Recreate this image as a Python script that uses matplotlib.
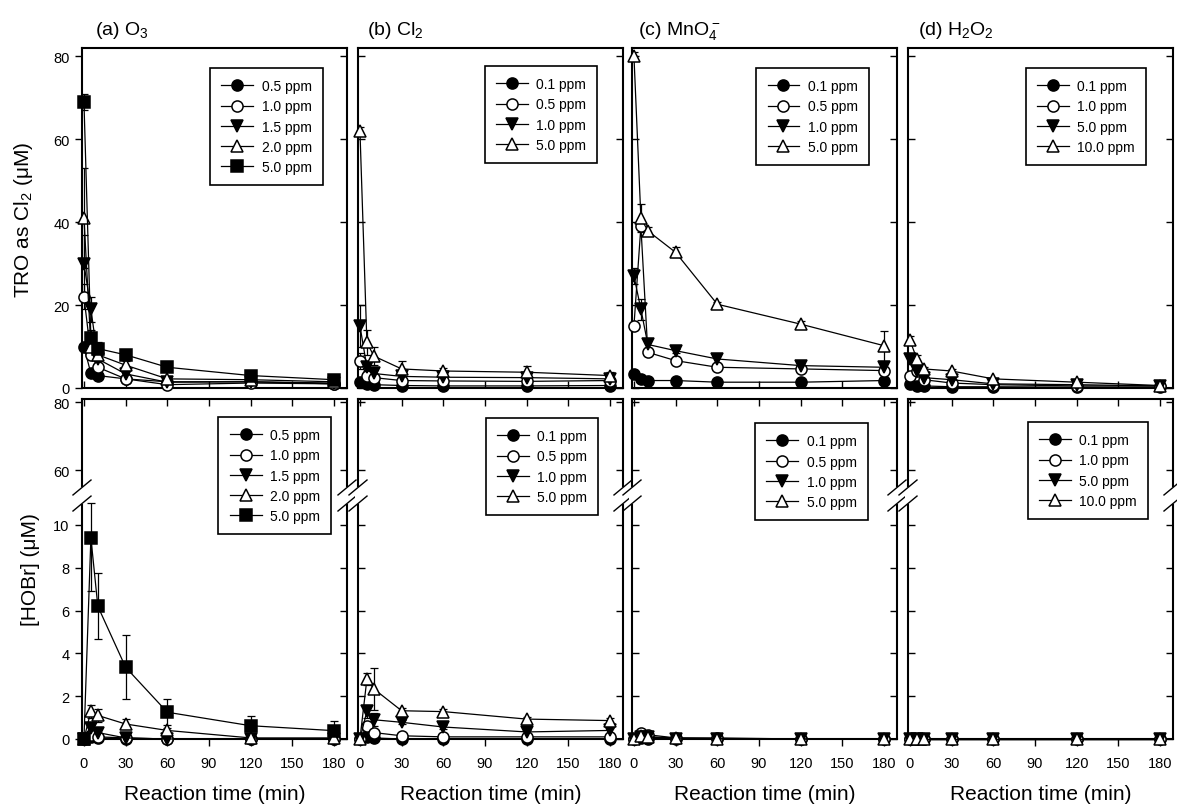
import numpy as np
import matplotlib
matplotlib.use('Agg')
import matplotlib.pyplot as plt
import matplotlib.lines as mlines
from matplotlib.patches import Rectangle
from matplotlib.ticker import NullLocator

plt.rcParams['font.family'] = 'Liberation Sans'
plt.rcParams['mathtext.default'] = 'regular'

# sampling times (min)
times = [0, 5, 10, 30, 60, 120, 180]

# (a) O3
o3_labels = ['0.5 ppm', '1.0 ppm', '1.5 ppm', '2.0 ppm', '5.0 ppm']
o3_tro = [[10, 3.5, 3.0, 2.2, 1.5, 1.5, 1.0],
          [22, 8.0, 5.0, 2.2, 0.8, 1.2, 1.0],
          [30, 19, 7.0, 3.4, 1.4, 1.5, 1.2],
          [41, 10, 8.0, 5.5, 2.2, 2.0, 1.5],
          [69, 12, 9.5, 8.0, 5.0, 3.0, 2.0]]
o3_tro_err = [[1.0, 0.5, 0.5, 0.3, 0.3, 0.3, 0.3],
              [3.0, 1.0, 1.0, 0.5, 0.3, 0.3, 0.3],
              [7.0, 3.0, 1.5, 1.0, 0.5, 0.3, 0.3],
              [12, 2.0, 1.5, 1.0, 0.5, 0.5, 0.3],
              [2.0, 2.0, 1.5, 1.0, 0.5, 0.5, 0.5]]
o3_hobr = [[0, 0.1, 0.05, 0, 0, 0, 0],
           [0, 0.2, 0.1, 0.05, 0, 0, 0],
           [0, 0.5, 0.3, 0.05, 0, 0, 0],
           [0, 1.3, 1.1, 0.7, 0.4, 0.05, 0.05],
           [0, 9.4, 6.2, 3.35, 1.25, 0.62, 0.39]]
o3_hobr_err = [[0, 0.05, 0.05, 0, 0, 0, 0],
               [0, 0.1, 0.05, 0, 0, 0, 0],
               [0, 0.3, 0.2, 0.05, 0, 0, 0],
               [0, 0.3, 0.3, 0.25, 0.1, 0.05, 0.05],
               [0, 2.5, 1.55, 1.5, 0.6, 0.47, 0.47]]

# (b) Cl2
cl2_labels = ['0.1 ppm', '0.5 ppm', '1.0 ppm', '5.0 ppm']
cl2_tro = [[1.5, 1.0, 0.8, 0.6, 0.5, 0.5, 0.6],
           [6.5, 3.0, 2.5, 1.8, 1.7, 1.6, 1.8],
           [15, 5.0, 3.5, 2.8, 2.6, 2.5, 2.2],
           [62, 11, 7.7, 4.6, 4.1, 3.8, 3.0]]
cl2_tro_err = [[0.5, 0.3, 0.3, 0.2, 0.2, 0.2, 0.2],
               [2.0, 1.0, 0.5, 0.3, 0.3, 0.3, 0.3],
               [5.0, 1.5, 0.8, 0.5, 0.3, 0.3, 0.3],
               [1.0, 3.0, 2.2, 2.0, 0.8, 1.5, 0.8]]
cl2_hobr = [[0, 0.1, 0.05, 0, 0, 0, 0],
            [0, 0.6, 0.3, 0.15, 0.1, 0.1, 0.1],
            [0, 1.3, 0.9, 0.78, 0.56, 0.33, 0.4],
            [0, 2.8, 2.34, 1.32, 1.28, 0.93, 0.86]]
cl2_hobr_err = [[0, 0.05, 0.05, 0, 0, 0, 0],
                [0, 0.2, 0.1, 0.05, 0.05, 0.05, 0.05],
                [0, 0.3, 0.3, 0.1, 0.1, 0.1, 0.1],
                [0, 0.3, 1.0, 0.15, 0.1, 0.1, 0.1]]

# (c) MnO4-
mno4_labels = ['0.1 ppm', '0.5 ppm', '1.0 ppm', '5.0 ppm']
mno4_tro = [[3.4, 2.2, 1.8, 1.8, 1.4, 1.4, 1.8],
            [15, 39, 8.6, 6.6, 5.0, 4.6, 4.2],
            [27, 19, 10.5, 9.0, 7.0, 5.4, 5.0],
            [80, 41, 37.9, 32.7, 20.2, 15.4, 10.2]]
mno4_tro_err = [[0.5, 0.3, 0.3, 0.3, 0.3, 0.3, 0.3],
                [1.0, 1.0, 1.0, 0.8, 0.5, 0.5, 0.5],
                [2.0, 2.5, 1.0, 0.5, 1.2, 1.2, 1.0],
                [1.0, 3.3, 1.0, 1.2, 0.5, 0.8, 3.6]]
mno4_hobr = [[0, 0.05, 0, 0, 0, 0, 0],
             [0, 0.3, 0.2, 0.05, 0.05, 0, 0],
             [0, 0.1, 0.1, 0, 0, 0, 0],
             [0, 0.15, 0.1, 0.05, 0.02, 0, 0]]
mno4_hobr_err = [[0, 0, 0, 0, 0, 0, 0],
                 [0, 0.1, 0.05, 0, 0, 0, 0],
                 [0, 0.05, 0.05, 0, 0, 0, 0],
                 [0, 0.05, 0.05, 0, 0, 0, 0]]

# (d) H2O2
h2o2_labels = ['0.1 ppm', '1.0 ppm', '5.0 ppm', '10.0 ppm']
h2o2_tro = [[1.0, 0.5, 0.5, 0.3, 0.3, 0.2, 0.2],
            [3.0, 4.0, 2.0, 1.2, 0.8, 0.5, 0.5],
            [7.0, 4.0, 2.5, 2.0, 1.0, 0.8, 0.5],
            [11.5, 7.0, 4.6, 4.1, 2.2, 1.4, 0.6]]
h2o2_tro_err = [[0.3, 0.2, 0.2, 0.1, 0.1, 0.1, 0.1],
                [0.5, 0.5, 0.3, 0.3, 0.2, 0.2, 0.2],
                [1.0, 0.5, 0.5, 0.3, 0.3, 0.2, 0.2],
                [1.0, 1.0, 0.5, 0.5, 0.3, 0.3, 0.3]]
h2o2_hobr = [[0, 0, 0, 0, 0, 0, 0],
             [0, 0, 0, 0, 0, 0, 0],
             [0, 0, 0, 0, 0, 0, 0],
             [0, 0, 0, 0, 0, 0, 0]]
h2o2_hobr_err = [[0, 0, 0, 0, 0, 0, 0]] * 4

titles = ['(a) O$_3$', '(b) Cl$_2$', '(c) MnO$_4^-$', '(d) H$_2$O$_2$']
tro_ticks = [0, 20, 40, 60, 80]
hobr_ticks = [0, 2, 4, 6, 8, 10, 60, 80]
x_ticks = [0, 30, 60, 90, 120, 150, 180]

panels = [(o3_labels, o3_tro, o3_tro_err, o3_hobr, o3_hobr_err),
          (cl2_labels, cl2_tro, cl2_tro_err, cl2_hobr, cl2_hobr_err),
          (mno4_labels, mno4_tro, mno4_tro_err, mno4_hobr, mno4_hobr_err),
          (h2o2_labels, h2o2_tro, h2o2_tro_err, h2o2_hobr, h2o2_hobr_err)]

# symbols in SigmaPlot default order
symbols = [('o', 'k'), ('o', 'w'), ('v', 'k'), ('^', 'w'), ('s', 'k')]

# broken y axis for the HOBr row: 0-11 linear, then 55-81 compressed
LO, HI, GAP, K = 11.0, 55.0, 0.75, 0.159


def fwd(y):
    y = np.asarray(y, dtype=float)
    return np.where(y <= LO, y,
                    np.where(y >= HI, LO + GAP + (y - HI) * K,
                             LO + (y - LO) / (HI - LO) * GAP))


def inv(m):
    m = np.asarray(m, dtype=float)
    return np.where(m <= LO, m,
                    np.where(m >= LO + GAP, HI + (m - LO - GAP) / K,
                             LO + (m - LO) / GAP * (HI - LO)))


def draw_series(ax, labels, vals, errs):
    for i in range(len(labels)):
        m, fc = symbols[i]
        ax.errorbar(times, vals[i], yerr=errs[i], fmt='none', ecolor='k',
                    elinewidth=0.9, capsize=3, capthick=0.9, zorder=2.6)
        ax.plot(times, vals[i], '-', color='k', lw=0.9, marker=m, mfc=fc,
                mec='k', ms=8, mew=1.1, label=labels[i], clip_on=False, zorder=3)


def add_legend(ax, anchor):
    leg = ax.legend(loc='upper right', bbox_to_anchor=anchor, borderaxespad=0,
                    fancybox=False, edgecolor='k', framealpha=1, fontsize=10,
                    handlelength=2.3, handletextpad=0.6, labelspacing=0.45,
                    borderpad=0.8)
    leg.get_frame().set_linewidth(1.2)


W, H = 1177, 812
fig = plt.figure(figsize=(W / 100, H / 100), dpi=100)
lefts = [82, 358, 632, 908]
title_x = [95, 367, 638, 918]
top_anchor = [(0.909, 0.941), (0.902, 0.947), (0.894, 0.941), (0.898, 0.941)]
bot_anchor = [(0.94, 0.947), (0.906, 0.944), (0.89, 0.929), (0.906, 0.932)]

for j, (labels, tro, tro_err, hobr, hobr_err) in enumerate(panels):
    # upper row: TRO
    ax = fig.add_axes([lefts[j] / W, (H - 389) / H, 265 / W, 340 / H])
    draw_series(ax, labels, tro, tro_err)
    ax.set_xlim(-1.4, 189.3)
    ax.set_ylim(0, 82)
    ax.set_xticks(x_ticks)
    ax.set_yticks(tro_ticks)
    ax.tick_params(axis='x', direction='in', length=5, width=1, top=False,
                   labelbottom=False)
    if j == 0:
        ax.tick_params(axis='y', direction='out', length=5, width=1, right=True,
                       labelsize=10.5, pad=4)
        for t in ax.yaxis.get_major_ticks():
            t.tick2line.set_marker(mlines.TICKLEFT)
    else:
        ax.tick_params(axis='y', direction='in', length=5, width=1, right=True,
                       labelleft=False)
    for s in ax.spines.values():
        s.set_linewidth(1.5)
    add_legend(ax, top_anchor[j])
    fig.text(title_x[j] / W, 1 - 35 / H, titles[j], fontsize=14, va='baseline')

    # lower row: HOBr with broken axis
    ax = fig.add_axes([lefts[j] / W, (H - 740) / H, 265 / W, 340 / H])
    ax.set_yscale('function', functions=(fwd, inv))
    draw_series(ax, labels, hobr, hobr_err)
    ax.set_xlim(-1.4, 189.3)
    ax.set_ylim(0, 81)
    ax.set_xticks(x_ticks)
    ax.set_yticks(hobr_ticks)
    ax.yaxis.set_minor_locator(NullLocator())
    ax.tick_params(axis='x', direction='out', length=5, width=1, top=True,
                   labelsize=10.5, pad=7)
    for t in ax.xaxis.get_major_ticks():
        t.tick2line.set_marker(mlines.TICKDOWN)
    if j == 0:
        ax.tick_params(axis='y', direction='out', length=5, width=1, right=True,
                       labelsize=10.5, pad=4)
        for t in ax.yaxis.get_major_ticks():
            t.tick2line.set_marker(mlines.TICKLEFT)
    else:
        ax.tick_params(axis='y', direction='in', length=5, width=1, right=True,
                       labelleft=False)
    for s in ax.spines.values():
        s.set_linewidth(1.5)
    ax.set_xlabel('Reaction time (min)', fontsize=15, labelpad=10)
    add_legend(ax, bot_anchor[j])

    # break marks on both vertical spines
    f_lo = float(fwd(LO) / fwd(81))
    f_hi = float(fwd(HI) / fwd(81))
    for xs in (0, 1):
        ax.add_patch(Rectangle((xs - 0.012, f_lo), 0.024, f_hi - f_lo,
                               transform=ax.transAxes, facecolor='w',
                               edgecolor='none', clip_on=False, zorder=5))
        for yb in (f_lo, f_hi):
            ax.plot([xs - 0.034, xs + 0.034], [yb - 0.022, yb + 0.022],
                    color='k', lw=1, transform=ax.transAxes, clip_on=False,
                    zorder=6)

fig.text(24 / W, 1 - 220 / H, 'TRO as Cl$_2$ (μM)', rotation=90,
         ha='center', va='center', fontsize=15)
fig.text(30 / W, 1 - 570 / H, '[HOBr] (μM)', rotation=90,
         ha='center', va='center', fontsize=15)

fig.savefig('out.png', dpi=100)
